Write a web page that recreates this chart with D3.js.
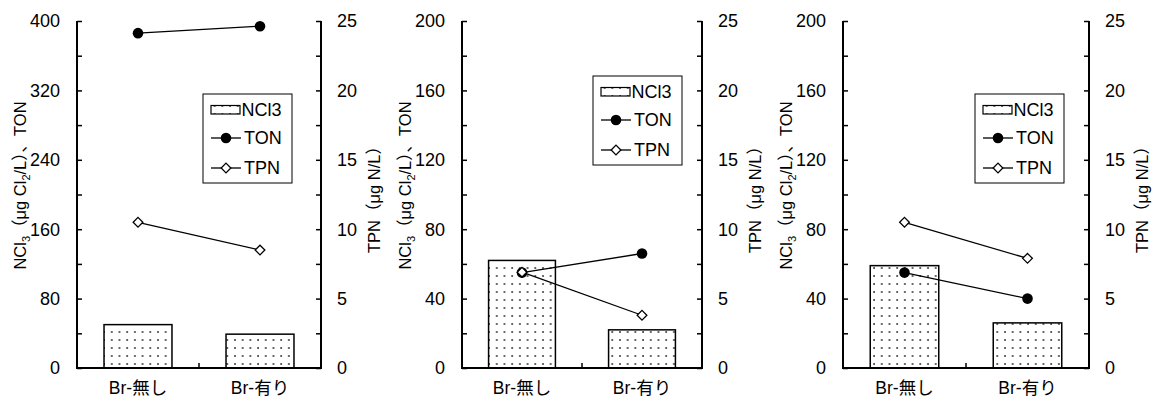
<!DOCTYPE html>
<html><head><meta charset="utf-8">
<script src="https://cdn.jsdelivr.net/npm/d3@7"></script>
<style>
body{margin:0;background:#fff;}
text{font-family:"Liberation Sans","Noto Sans CJK JP",Arial,sans-serif;fill:#000;}
</style></head>
<body><svg id="c" width="1160" height="405"></svg>
<script>
const categories = ["Br-無し", "Br-有り"];
const nclValues = [[50, 39], [62, 22], [59, 26]];
const tonValues = [[386, 394], [55, 66], [55, 40]];
const tpnValues = [[10.5, 8.5], [6.9, 3.8], [10.5, 7.9]];
const leftMax = [400, 200, 200];
const leftMajorStep = [80, 40, 40];
const rightTicks = [0, 5, 10, 15, 20, 25];
const rightMax = 25;
const legendLabels = ["NCl3", "TON", "TPN"];

const panels = [
  {left: 77, right: 321, legX: 203, legY: 94},
  {left: 462, right: 702, legX: 593, legY: 76},
  {left: 843, right: 1089, legX: 975, legY: 94}
];
const yTop = 21, yBot = 368;
const svg = d3.select("#c");
const FS = 18;

const defs = svg.append("defs");
const pat = defs.append("pattern").attr("id","dots").attr("patternUnits","userSpaceOnUse")
  .attr("width",7.7).attr("height",8).attr("x",2).attr("y",2);
pat.append("rect").attr("width",7.7).attr("height",8).attr("fill","#fff");
pat.append("circle").attr("cx",2).attr("cy",2).attr("r",0.95).attr("fill","#333");

panels.forEach((p, i) => {
  const g = svg.append("g");
  const x = d3.scaleBand().domain(categories).range([p.left, p.right]).padding(0);
  const y = d3.scaleLinear().domain([0, leftMax[i]]).range([yBot, yTop]);
  const y2 = d3.scaleLinear().domain([0, rightMax]).range([yBot, yTop]);
  const barW = x.bandwidth() * 0.557;

  g.selectAll("rect.bar").data(nclValues[i]).join("rect")
    .attr("x", (d, j) => x(categories[j]) + x.bandwidth()/2 - barW/2)
    .attr("y", d => y(d)).attr("width", barW).attr("height", d => y(0) - y(d))
    .attr("fill", "url(#dots)").attr("stroke", "#000").attr("stroke-width", 1.5);

  const major = d3.range(0, leftMax[i] + 1, leftMajorStep[i]);
  const minor = d3.range(0, leftMax[i] + 1, leftMajorStep[i] / 2);
  const la = d3.axisLeft(y).tickValues(minor).tickSize(-5).tickFormat("");
  const lag = g.append("g").attr("transform", `translate(${p.left},0)`).call(la);
  lag.select(".domain").attr("stroke-width", 2).attr("d", `M0,${yBot}V${yTop}`);
  lag.selectAll(".tick line").attr("stroke-width", 1.5);
  major.forEach(v => g.append("text").attr("x", p.left - 17).attr("y", y(v)).attr("dy", "0.36em")
    .attr("text-anchor", "end").attr("font-size", FS).text(v));

  const rMinor = d3.range(0, rightMax + 0.1, 2.5);
  const ra = d3.axisRight(y2).tickValues(rMinor).tickSize(-5).tickFormat("");
  const rag = g.append("g").attr("transform", `translate(${p.right},0)`).call(ra);
  rag.select(".domain").attr("stroke-width", 2).attr("d", `M0,${yBot}V${yTop}`);
  rag.selectAll(".tick line").attr("stroke-width", 1.5);
  rightTicks.forEach(v => g.append("text").attr("x", p.right + 16).attr("y", y2(v)).attr("dy", "0.36em")
    .attr("text-anchor", "start").attr("font-size", FS).text(v));

  g.append("line").attr("x1", p.left - 1).attr("x2", p.right + 1).attr("y1", yBot).attr("y2", yBot)
    .attr("stroke", "#000").attr("stroke-width", 2);
  const midX = x(categories[1]);
  g.append("line").attr("x1", midX).attr("x2", midX).attr("y1", yBot).attr("y2", yBot - 5)
    .attr("stroke", "#000").attr("stroke-width", 1.5);
  categories.forEach(c => g.append("text").attr("x", x(c) + x.bandwidth()/2).attr("y", 394)
    .attr("text-anchor", "middle").attr("font-size", 17.5).text(c));

  const cx = (d, j) => x(categories[j]) + x.bandwidth()/2;
  const tpnPts = tpnValues[i].map((d, j) => [cx(d, j), y2(d)]);
  g.append("path").attr("d", d3.line()(tpnPts)).attr("fill", "none").attr("stroke", "#000").attr("stroke-width", 1.3);
  const tonPts = tonValues[i].map((d, j) => [cx(d, j), y(d)]);
  g.append("path").attr("d", d3.line()(tonPts)).attr("fill", "none").attr("stroke", "#000").attr("stroke-width", 1.3);
  g.selectAll("circle.ton").data(tonPts).join("circle").attr("cx", d => d[0]).attr("cy", d => d[1])
    .attr("r", 5.3).attr("fill", "#000");
  const dia = d3.symbol().type(d3.symbolDiamond2).size(60);
  g.selectAll("path.tpn").data(tpnPts).join("path").attr("transform", d => `translate(${d[0]},${d[1]})`)
    .attr("d", dia).attr("fill", "#fff").attr("stroke", "#000").attr("stroke-width", 1.3);

  const ly = (yTop + yBot) / 2 - 9;
  const lt = g.append("text").attr("transform", `translate(${p.left - 51},${ly}) rotate(-90)`)
    .attr("text-anchor", "middle").attr("font-size", 16.5);
  lt.append("tspan").text("NCl");
  lt.append("tspan").attr("font-size", 11).attr("dy", 4).text("3");
  lt.append("tspan").attr("dy", -4).text("（μg Cl");
  lt.append("tspan").attr("font-size", 11).attr("dy", 4).text("2");
  lt.append("tspan").attr("dy", -4).text("/L）、TON");
  g.append("text").attr("transform", `translate(${p.right + 59},${(yTop + yBot) / 2 + 1}) rotate(-90)`)
    .attr("text-anchor", "middle").attr("font-size", 16.5).text("TPN（μg N/L）");

  const lg = g.append("g").attr("transform", `translate(${p.legX},${p.legY})`);
  lg.append("rect").attr("width", 89).attr("height", 89).attr("fill", "#fff").attr("stroke", "#000").attr("stroke-width", 1);
  lg.append("rect").attr("x", 8).attr("y", 11.5).attr("width", 29).attr("height", 8.5)
    .attr("fill", "url(#dots)").attr("stroke", "#000").attr("stroke-width", 1.2);
  [44, 74].forEach((yy, k) => {
    lg.append("line").attr("x1", 8).attr("x2", 38).attr("y1", yy).attr("y2", yy).attr("stroke", "#000").attr("stroke-width", 1.3);
    if (k === 0) lg.append("circle").attr("cx", 23).attr("cy", yy).attr("r", 5.3).attr("fill", "#000");
    else lg.append("path").attr("transform", `translate(23,${yy})`).attr("d", dia).attr("fill", "#fff").attr("stroke", "#000").attr("stroke-width", 1.3);
  });
  [[38.5, 16], [41, 44], [41, 74]].forEach((q, k) => lg.append("text").attr("x", q[0]).attr("y", q[1]).attr("dy", "0.36em")
    .attr("font-size", FS).text(legendLabels[k]));
});
</script></body></html>
